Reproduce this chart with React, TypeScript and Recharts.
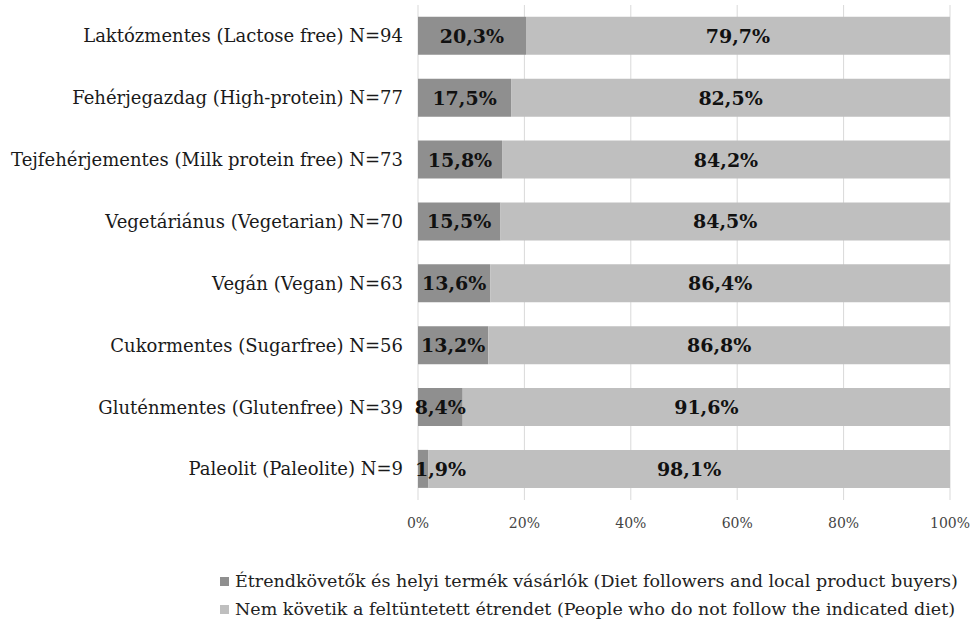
import React from 'react';
import { BarChart, Bar, XAxis, YAxis, CartesianGrid, Legend, LabelList } from 'recharts';

const categories = [
  'Laktózmentes (Lactose free) N=94',
  'Fehérjegazdag (High-protein) N=77',
  'Tejfehérjementes (Milk protein free) N=73',
  'Vegetáriánus (Vegetarian) N=70',
  'Vegán (Vegan) N=63',
  'Cukormentes (Sugarfree) N=56',
  'Gluténmentes (Glutenfree) N=39',
  'Paleolit (Paleolite) N=9',
];
const followers = [20.3, 17.5, 15.8, 15.5, 13.6, 13.2, 8.4, 1.9];
const nonFollowers = [79.7, 82.5, 84.2, 84.5, 86.4, 86.8, 91.6, 98.1];
const xTicks = [0, 20, 40, 60, 80, 100];

const seriesKeys = ['followers', 'nonFollowers'];
const seriesNames = {
  followers: 'Étrendkövetők és helyi termék vásárlók (Diet followers and local product buyers)',
  nonFollowers: 'Nem követik a feltüntetett étrendet (People who do not follow the indicated diet)',
};

const data = categories.map((name, i) => ({
  name,
  followers: followers[i],
  nonFollowers: nonFollowers[i],
}));

const FONT = '"DejaVu Serif", serif';
const fmt = (v: any) => `${Number(v).toFixed(1).replace('.', ',')}%`;

function renderLegend(props: any) {
  const payload = [...(props.payload || [])].sort(
    (a: any, b: any) => seriesKeys.indexOf(a.dataKey) - seriesKeys.indexOf(b.dataKey)
  );
  return (
    <div style={{ fontFamily: FONT, fontSize: 17.5, color: '#222' }}>
      {payload.map((p: any) => (
        <div key={p.value} style={{ display: 'flex', alignItems: 'center', height: 28, whiteSpace: 'nowrap' }}>
          <span style={{ width: 9, height: 9, background: p.color, marginRight: 6, display: 'inline-block' }} />
          <span>{p.value}</span>
        </div>
      ))}
    </div>
  );
}

// centred label; very narrow segments get the label pushed to start at the bar's left edge
function SegmentLabel(props: any) {
  const { x, y, width, height, value } = props;
  const narrow = width < 30;
  return (
    <text
      x={narrow ? x - 3 : x + width / 2}
      y={y + height / 2}
      textAnchor={narrow ? 'start' : 'middle'}
      dominantBaseline="central"
      style={{ fontFamily: FONT, fontSize: 19, fontWeight: 'bold', fill: '#111' }}
    >
      {fmt(value)}
    </text>
  );
}

function App() {
  return (
    <div style={{ position: 'absolute', left: 0, top: 0, width: 973, height: 635, background: '#fff' }}>
      <BarChart
        width={973}
        height={635}
        data={data}
        layout="vertical"
        barCategoryGap="19%"
        margin={{ top: 5, right: 23, left: 0, bottom: 49 }}
      >
        <CartesianGrid horizontal={false} stroke="#d9d9d9" />
        <XAxis
          type="number"
          domain={[0, 100]}
          ticks={xTicks}
          tickFormatter={(v) => `${v}%`}
          axisLine={false}
          tickLine={false}
          tickSize={0}
          tickMargin={18}
          tick={{ fontFamily: FONT, fontSize: 14, fill: '#444' }}
          interval={0}
        />
        <YAxis
          type="category"
          dataKey="name"
          width={418}
          axisLine={false}
          tickLine={false}
          tickSize={0}
          tickMargin={15}
          interval={0}
          tick={{ fontFamily: FONT, fontSize: 18, fill: '#1a1a1a' }}
        />
        <Legend
          content={renderLegend}
          wrapperStyle={{ left: 220, top: 567, width: 750 }}
        />
        <Bar dataKey="followers" name={seriesNames.followers} stackId="a" fill="#8f8f8f" isAnimationActive={false}>
          <LabelList dataKey="followers" content={<SegmentLabel />} />
        </Bar>
        <Bar dataKey="nonFollowers" name={seriesNames.nonFollowers} stackId="a" fill="#bfbfbf" isAnimationActive={false}>
          <LabelList dataKey="nonFollowers" content={<SegmentLabel />} />
        </Bar>
      </BarChart>
    </div>
  );
}

export default App;
